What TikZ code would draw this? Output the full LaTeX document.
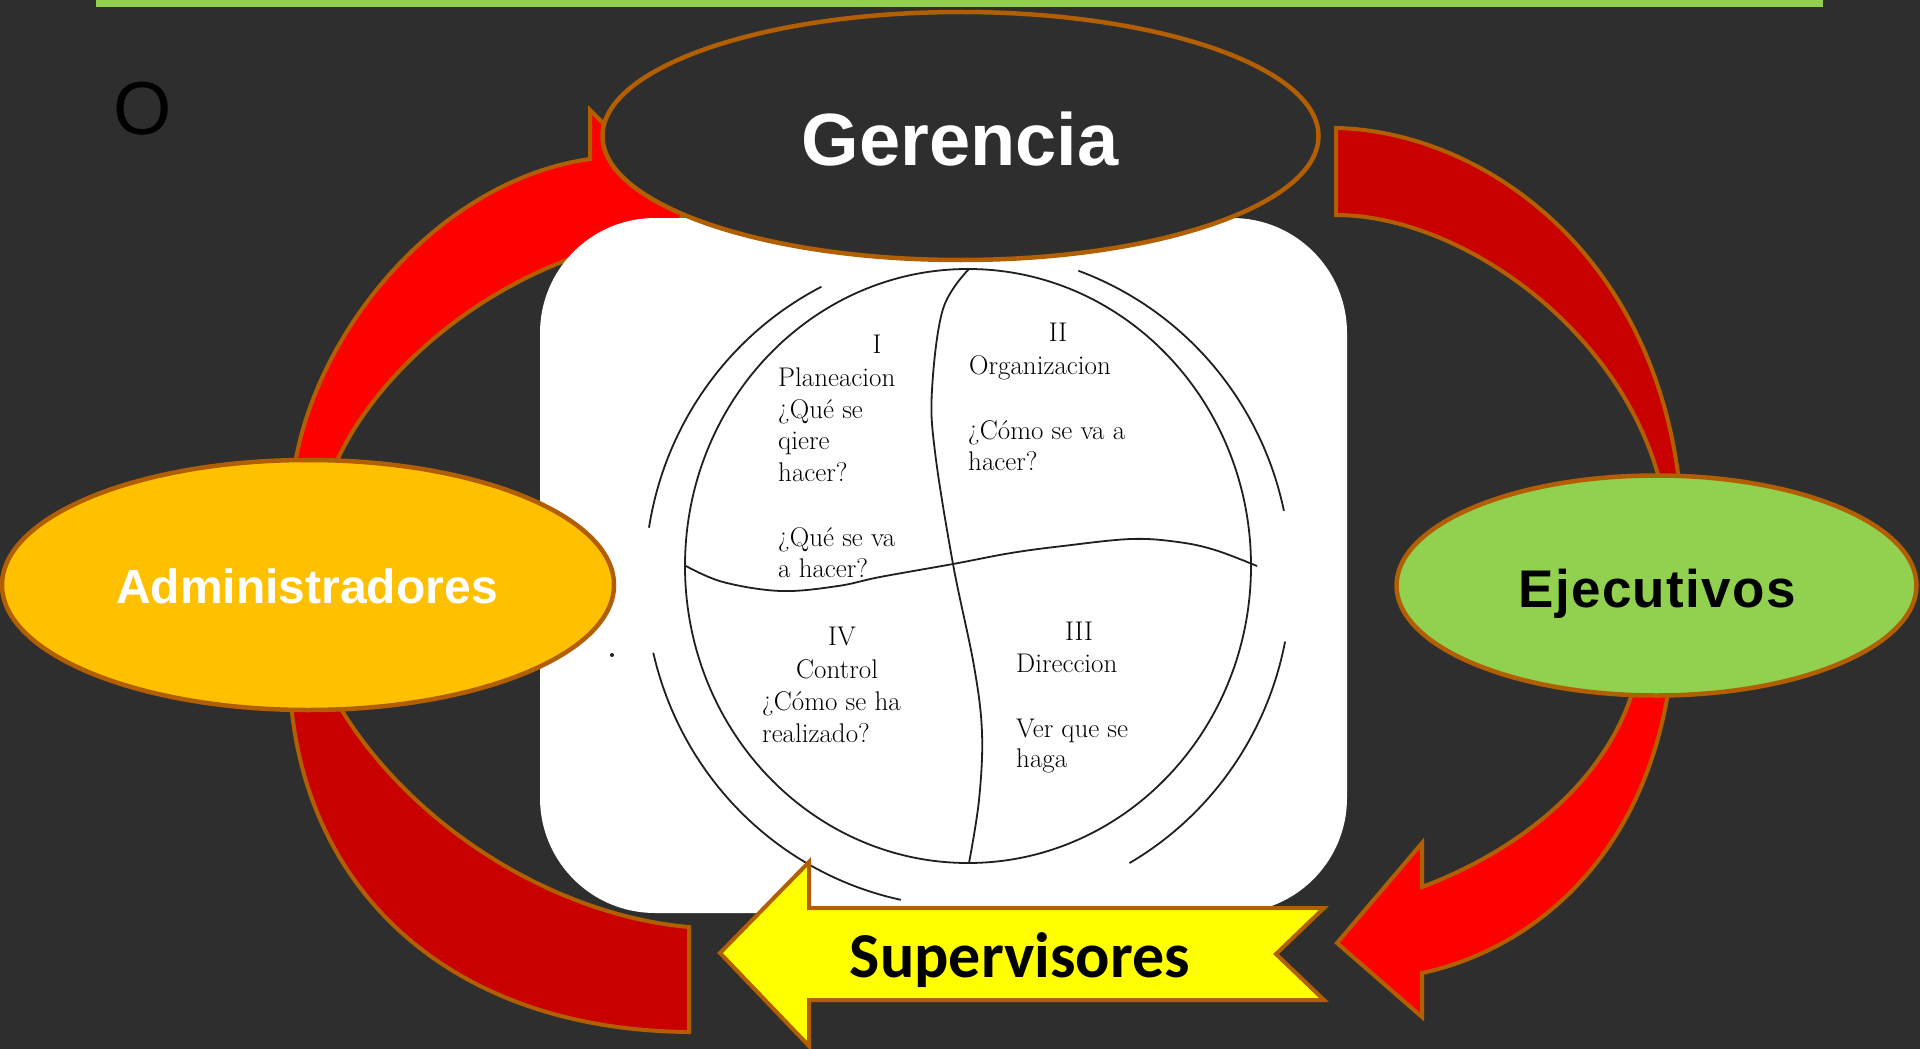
\documentclass[tikz,border=0pt]{standalone}
\usepackage{fontspec}
\newfontfamily\arialf{Liberation Sans}
\newfontfamily\calibrif{Carlito}
\usetikzlibrary{shapes.geometric}
\definecolor{bg}{RGB}{46,46,46}
\definecolor{barg}{RGB}{146,208,80}
\definecolor{brd}{RGB}{178,94,2}
\definecolor{redA}{RGB}{255,0,0}
\definecolor{redB}{RGB}{200,0,0}
\definecolor{gold}{RGB}{255,192,0}
\definecolor{lime}{RGB}{146,208,80}
\definecolor{yel}{RGB}{255,255,0}
\begin{document}
\begin{tikzpicture}[x=1pt,y=-1pt,
  band/.style={draw=brd,line width=4pt,line join=miter},
  oval/.style={ellipse,draw=brd,line width=4.5pt,inner sep=0pt},
  sketch/.style={draw=black!88,line width=1.8pt},
  qtext/.style={font=\fontsize{27}{32}\selectfont,inner sep=0pt,text=black},
  bigtext/.style={anchor=base,inner sep=0pt}
]
\useasboundingbox (0,0) rectangle (1920,1049);
\fill[bg] (0,0) rectangle (1920,1049);
\fill[barg] (96,0) rectangle (1823,7);

% curved bands
\path[band,fill=redA] (294,470) .. controls (315,330) and (440,180) .. (590,159)
  -- (590,110) -- (690,210) -- (590,300) -- (590,252)
  .. controls (470,290) and (370,380) .. (333,470) -- cycle;
\path[band,fill=redB] (1336,128) .. controls (1480,131) and (1655,250) .. (1680,490)
  -- (1662,490) .. controls (1625,330) and (1460,215) .. (1336,215) -- cycle;
\path[band,fill=redA] (1670,680) .. controls (1645,860) and (1530,950) .. (1422,973)
  -- (1422,1017) -- (1337,943) -- (1422,843) -- (1422,887)
  .. controls (1520,850) and (1610,780) .. (1636,680) -- cycle;
\path[band,fill=redB] (290,690) .. controls (302,890) and (450,1030) .. (689,1032)
  -- (689,927) .. controls (550,915) and (400,820) .. (330,690) -- cycle;

% white panel
\node[fill=white,rounded corners=115pt,minimum width=807pt,minimum height=695pt,inner sep=0pt] (panel) at (943.5,565.5) {};

% globe sketch
\node[ellipse,sketch,minimum width=566pt,minimum height=594pt,inner sep=0pt] (globe) at (968,566) {};
\draw[sketch] plot[domain=-117:-171,samples=50] ({968+323*cos(\x)},{579+328*sin(\x)});
\draw[sketch] plot[domain=-12:-70,samples=50] ({968+323*cos(\x)},{579+328*sin(\x)});
\draw[sketch] plot[domain=167:102,samples=50] ({968+323*cos(\x)},{579+328*sin(\x)});
\draw[sketch] plot[domain=11:60,samples=50] ({968+323*cos(\x)},{579+328*sin(\x)});
\fill[black!88] (612,655) circle[radius=2pt];
\draw[sketch] plot[smooth,tension=0.6] coordinates {(969,269) (943,309) (932,390) (935,452) (953,564) (974,666) (982,733) (979,800) (969,863)};
\draw[sketch] plot[smooth,tension=0.6] coordinates {(686,566) (723,582) (781,591) (838,586) (880,577) (953,564) (1011,553) (1063,546) (1131,539) (1178,542) (1215,550) (1257,566)};

\node[qtext,anchor=base] (q1n) at (877,353) {I};
\node[qtext,anchor=base west] (q1a) at (778,386) {Planeacion};
\node[qtext,anchor=base west] (q1b) at (778,418) {¿Qué se};
\node[qtext,anchor=base west] (q1c) at (778,449) {qiere};
\node[qtext,anchor=base west] (q1d) at (778,481) {hacer?};
\node[qtext,anchor=base west] (q1e) at (778,546) {¿Qué se va};
\node[qtext,anchor=base west] (q1f) at (778,577) {a hacer?};

\node[qtext,anchor=base] (q2n) at (1058,341) {II};
\node[qtext,anchor=base west] (q2a) at (969,374) {Organizacion};
\node[qtext,anchor=base west] (q2b) at (968,439) {¿Cómo se va a};
\node[qtext,anchor=base west] (q2c) at (968,470) {hacer?};

\node[qtext,anchor=base] (q4n) at (842,645) {IV};
\node[qtext,anchor=base west] (q4a) at (796,678) {Control};
\node[qtext,anchor=base west] (q4b) at (762,710) {¿Cómo se ha};
\node[qtext,anchor=base west] (q4c) at (762,742) {realizado?};

\node[qtext,anchor=base] (q3n) at (1079,640) {III};
\node[qtext,anchor=base west] (q3a) at (1016,672) {Direccion};
\node[qtext,anchor=base west] (q3b) at (1016,737) {Ver que se};
\node[qtext,anchor=base west] (q3c) at (1016,767) {haga};

% ellipses
\node[oval,fill=bg,minimum width=716pt,minimum height=248pt] (gerencia) at (960.5,136) {};
\node[bigtext,text=white,font=\arialf\bfseries\fontsize{74}{80}\selectfont] (gerenciaT) at (960,165) {Gerencia};
\node[oval,fill=gold,minimum width=612pt,minimum height=250pt] (admin) at (308,585) {};
\node[bigtext,text=white,font=\arialf\bfseries\fontsize{48}{54}\selectfont] (adminT) at (307,603) {Administradores};
\node[oval,fill=lime,minimum width=520pt,minimum height=220pt] (ejec) at (1656.5,585.5) {};
\node[bigtext,text=black,font=\arialf\bfseries\fontsize{53}{60}\selectfont\addfontfeature{LetterSpace=2.5}] (ejecT) at (1657,607) {Ejecutivos};

% yellow arrow
\path[band,fill=yel] (720,953) -- (809,862) -- (809,908) -- (1324,908) -- (1276,954) -- (1324,1000) -- (809,1000) -- (809,1046) -- cycle;
\node[bigtext,text=black,font=\calibrif\bfseries\fontsize{64}{70}\selectfont] (superv) at (1020,977) {Supervisores};

\node[bigtext,text=black,font=\arialf\fontsize{75}{80}\selectfont] (olabel) at (143,134) {O};
\end{tikzpicture}
\end{document}
